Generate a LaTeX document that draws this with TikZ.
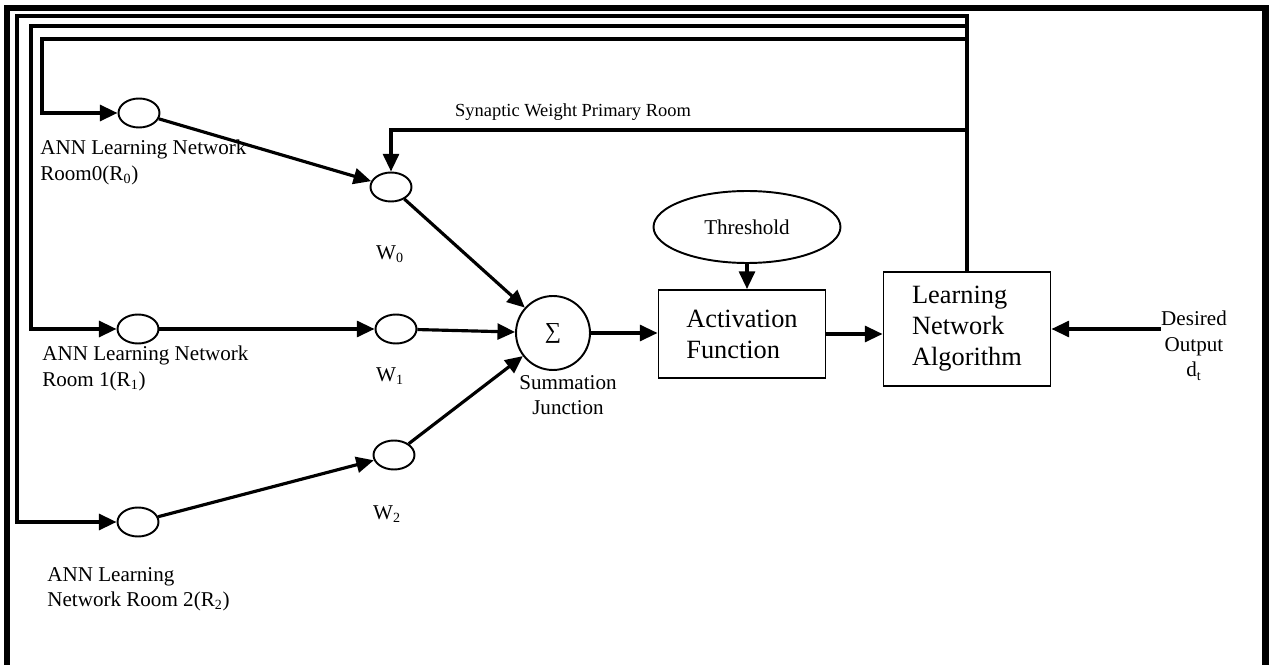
\documentclass[tikz,border=0pt]{standalone}
\usepackage{fontspec}
\setmainfont{Liberation Serif}
\usetikzlibrary{shapes.geometric,arrows.meta,positioning}

\begin{document}
\begin{tikzpicture}[x=0.02cm, y=-0.02cm]
    \tikzset{ cell/.style={ellipse,draw,line width=1.1pt,minimum width=0.82cm,minimum height=0.58cm,inner sep=0pt},
            block/.style={rectangle,draw,line width=1.1pt,minimum width=3.34cm,align=left,font=\fontsize{15}{17.6}\selectfont},
            lbl/.style={align=left,inner sep=0pt,font=\fontsize{12}{14.5}\selectfont},
            arrow/.style={-{Triangle[length=10pt,width=9pt]}, line width=1.8pt},
            feed/.style={arrow, line width=1.9pt}}
    \useasboundingbox (0,0) rectangle (1271,665);

    % Cadre
    \draw[line width=3.7pt] (7,665) -- (7,8) -- (1265.5,8) -- (1265.5,665);

    % Noeuds
    \node[cell] (r0) at (139,113) {};
    \node[cell] (r1) at (138,329) {};
    \node[cell] (r2) at (138,522) {};
    \node[cell] (w0) at (391,187) {};
    \node[cell] (w1) at (396,329) {};
    \node[cell] (w2) at (394,455) {};
    \node[circle,draw,line width=1.1pt,minimum size=1.48cm,inner sep=0pt] (sum) at (553,333) {\fontsize{13}{13}\selectfont ∑};
    \node[ellipse,draw,line width=1.1pt,minimum width=3.74cm,minimum height=1.44cm,font=\fontsize{12}{14}\selectfont] (thr) at (747,227) {Threshold};
    \node[block,minimum height=1.76cm] (act) at (742,334) {Activation\\Function};
    \node[block,minimum height=2.28cm] (learn) at (967,329) {Learning\\Network\\Algorithm};

    % Textes
    \node[lbl,anchor=north west] (r0txt) at (40,140) {ANN Learning Network\\Room0(R\textsubscript{0})};
    \node[lbl,anchor=north west] (r1txt) at (42,346) {ANN Learning Network\\Room 1(R\textsubscript{1})};
    \node[lbl,anchor=north west] (r2txt) at (47,567) {ANN Learning\\Network Room 2(R\textsubscript{2})};
    \node[lbl] (w0txt) at (390,254) {W\textsubscript{0}};
    \node[lbl] (w1txt) at (390,376) {W\textsubscript{1}};
    \node[lbl] (w2txt) at (387,514) {W\textsubscript{2}};
    \node[lbl,align=center,anchor=north] (sumtxt) at (568,375) {Summation\\Junction};
    \node[lbl,align=center,anchor=north] (dout) at (1194,311) {Desired\\Output\\d\textsubscript{t}};
    \node[lbl,anchor=base,font=\fontsize{10.5}{12}\selectfont] (syntxt) at (573,117) {Synaptic Weight Primary Room};

    % Flèches
    \draw[arrow] (r0) -- (w0);
    \draw[arrow] (r1) -- (w1);
    \draw[arrow] (r2) -- (w2);
    \draw[arrow] (w0) -- (sum);
    \draw[arrow] (w1) -- (sum);
    \draw[arrow] (w2) -- (sum);
    \draw[arrow] (sum) -- (sum -| act.west);
    \draw[arrow] (thr.south) -- (thr.south |- act.north);
    \draw[arrow] (act.east) -- (act.east -| learn.west);
    \draw[arrow] (dout.west |- learn.east) -- (learn.east);

    % Retours
    \coordinate (c0) at (42,39);
    \coordinate (c1) at (31,26);
    \coordinate (c2) at (17,16);
    \coordinate (syn) at (967,130);
    \draw[feed] (learn.north) |- (c0) |- (r0.west);
    \draw[feed] (learn.north) |- (c1) |- (r1.west);
    \draw[feed] (learn.north) |- (c2) |- (r2.west);
    \draw[arrow] (syn) -| (w0.north);
\end{tikzpicture}
\end{document}
